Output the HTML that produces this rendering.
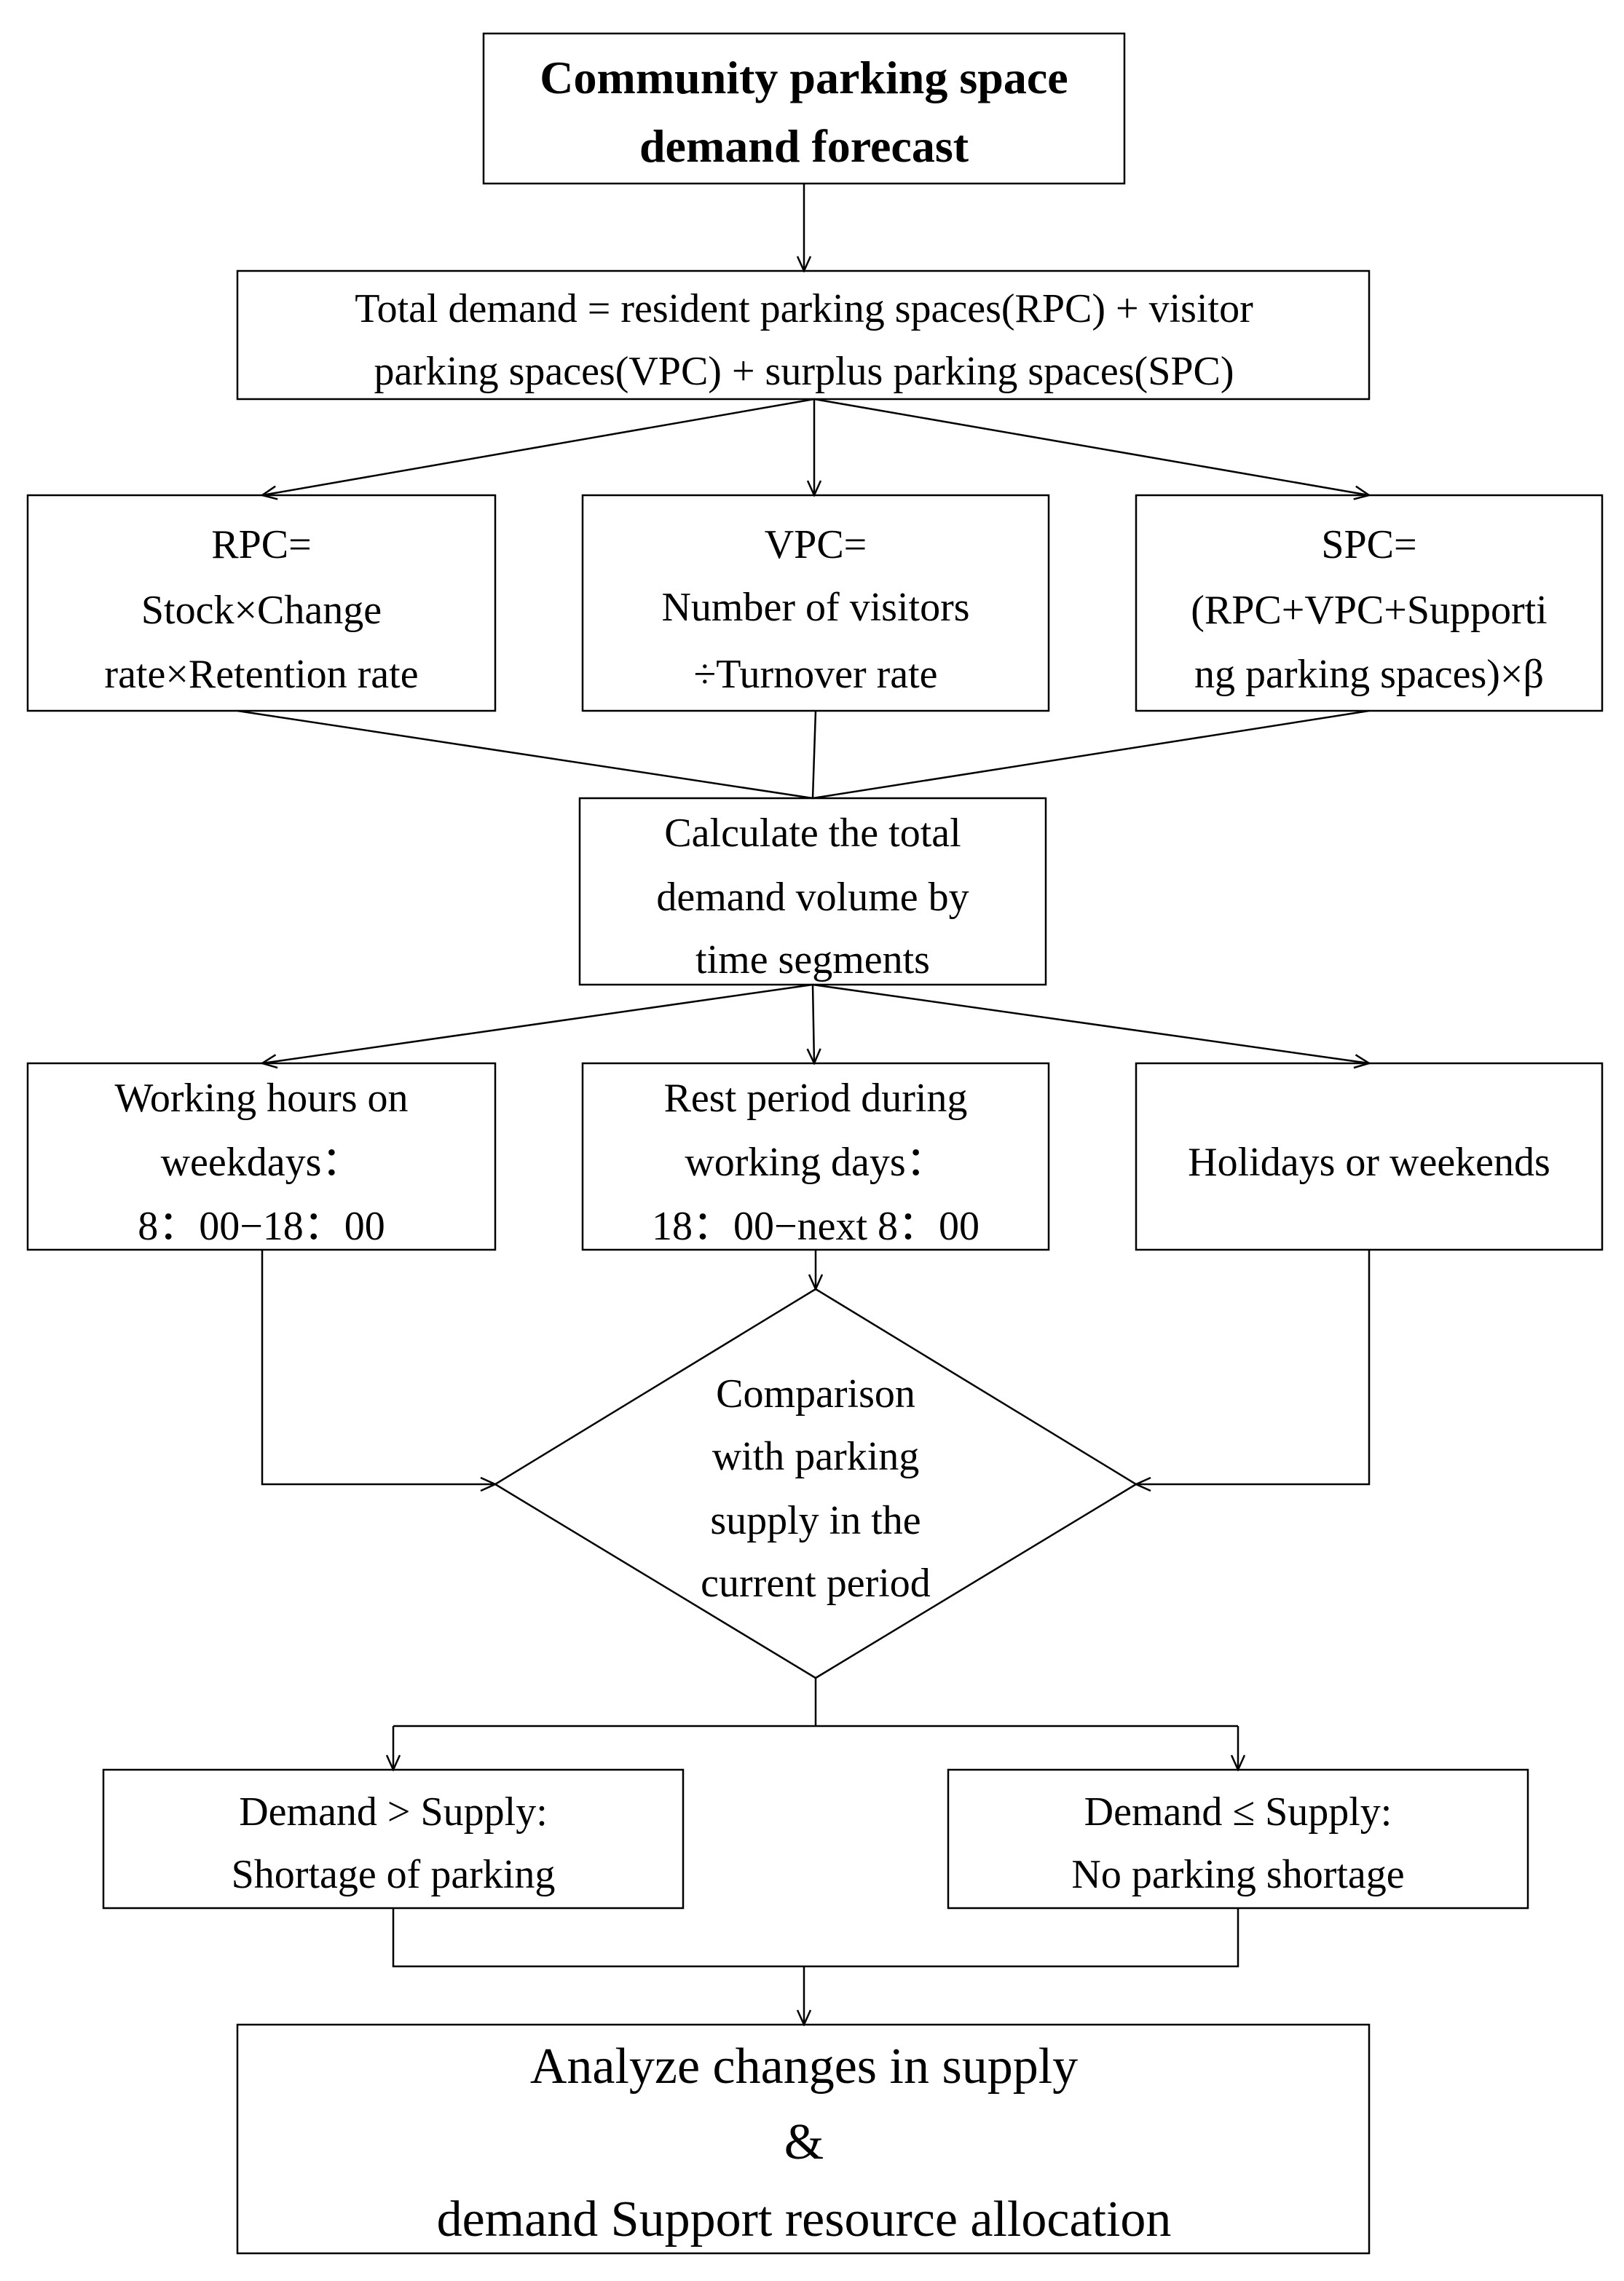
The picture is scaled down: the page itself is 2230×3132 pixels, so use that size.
<!DOCTYPE html>
<html><head><meta charset="utf-8"><style>html,body{margin:0;padding:0;background:#fff}svg{display:block}</style></head>
<body>
<svg width="2230" height="3132" viewBox="0 0 2230 3132" xmlns="http://www.w3.org/2000/svg">
<defs><marker id="a" markerWidth="24" markerHeight="24" refX="22" refY="12" orient="auto" markerUnits="userSpaceOnUse"><path d="M2,3 L22,12 L2,21" fill="none" stroke="#000" stroke-width="2.5"/></marker></defs>
<g fill="none" stroke="#000" stroke-width="2.5">
<rect x="664" y="46" width="880" height="206"/>
<rect x="326" y="372" width="1554" height="176"/>
<rect x="38" y="680" width="642" height="296"/>
<rect x="800" y="680" width="640" height="296"/>
<rect x="1560" y="680" width="640" height="296"/>
<rect x="796" y="1096" width="640" height="256"/>
<rect x="38" y="1460" width="642" height="256"/>
<rect x="800" y="1460" width="640" height="256"/>
<rect x="1560" y="1460" width="640" height="256"/>
<polygon points="1120,1770 1560,2038 1120,2304 680,2038"/>
<rect x="142" y="2430" width="796" height="190"/>
<rect x="1302" y="2430" width="796" height="190"/>
<rect x="326" y="2780" width="1554" height="314"/>
<line x1="1104" y1="252" x2="1104" y2="372" marker-end="url(#a)"/>
<line x1="1118" y1="548" x2="360" y2="680" marker-end="url(#a)"/>
<line x1="1118" y1="548" x2="1118" y2="680" marker-end="url(#a)"/>
<line x1="1118" y1="548" x2="1880" y2="680" marker-end="url(#a)"/>
<line x1="326" y1="976" x2="1116" y2="1096"/>
<line x1="1120" y1="976" x2="1116" y2="1096"/>
<line x1="1880" y1="976" x2="1116" y2="1096"/>
<line x1="1116" y1="1352" x2="360" y2="1460" marker-end="url(#a)"/>
<line x1="1116" y1="1352" x2="1118" y2="1460" marker-end="url(#a)"/>
<line x1="1116" y1="1352" x2="1880" y2="1460" marker-end="url(#a)"/>
<line x1="1120" y1="1716" x2="1120" y2="1770" marker-end="url(#a)"/>
<polyline points="360,1716 360,2038 680,2038" marker-end="url(#a)"/>
<polyline points="1880,1716 1880,2038 1560,2038" marker-end="url(#a)"/>
<line x1="1120" y1="2304" x2="1120" y2="2370"/>
<line x1="540" y1="2370" x2="1700" y2="2370"/>
<line x1="540" y1="2370" x2="540" y2="2430" marker-end="url(#a)"/>
<line x1="1700" y1="2370" x2="1700" y2="2430" marker-end="url(#a)"/>
<polyline points="540,2620 540,2700 1700,2700 1700,2620"/>
<line x1="1104" y1="2700" x2="1104" y2="2780" marker-end="url(#a)"/>
</g>
<g font-family="Liberation Serif, serif" font-size="56" text-anchor="middle" fill="#000">
<text x="1104" y="128" font-weight="bold" font-size="64">Community parking space</text>
<text x="1104" y="222" font-weight="bold" font-size="64">demand forecast</text>
<text x="1104" y="442">Total demand = resident parking spaces(RPC) + visitor</text>
<text x="1104" y="528">parking spaces(VPC) + surplus parking spaces(SPC)</text>
<text x="359" y="766">RPC=</text>
<text x="359" y="856">Stock×Change</text>
<text x="359" y="944">rate×Retention rate</text>
<text x="1120" y="766">VPC=</text>
<text x="1120" y="852">Number of visitors</text>
<text x="1120" y="944">÷Turnover rate</text>
<text x="1880" y="766">SPC=</text>
<text x="1880" y="856">(RPC+VPC+Supporti</text>
<text x="1880" y="944">ng parking spaces)×β</text>
<text x="1116" y="1162">Calculate the total</text>
<text x="1116" y="1250">demand volume by</text>
<text x="1116" y="1336">time segments</text>
<text x="359" y="1526">Working hours on</text>
<text x="359" y="1614">weekdays：</text>
<text x="359" y="1702">8：00−18：00</text>
<text x="1120" y="1526">Rest period during</text>
<text x="1120" y="1614">working days：</text>
<text x="1120" y="1702">18：00−next 8：00</text>
<text x="1880" y="1614">Holidays or weekends</text>
<text x="1120" y="1932">Comparison</text>
<text x="1120" y="2018">with parking</text>
<text x="1120" y="2106">supply in the</text>
<text x="1120" y="2192">current period</text>
<text x="540" y="2506">Demand &gt; Supply:</text>
<text x="540" y="2592">Shortage of parking</text>
<text x="1700" y="2506">Demand ≤ Supply:</text>
<text x="1700" y="2592">No parking shortage</text>
<text x="1104" y="2860" font-size="70">Analyze changes in supply</text>
<text x="1104" y="2964" font-size="70">&amp;</text>
<text x="1104" y="3070" font-size="70">demand Support resource allocation</text>
</g>
</svg>
</body></html>
